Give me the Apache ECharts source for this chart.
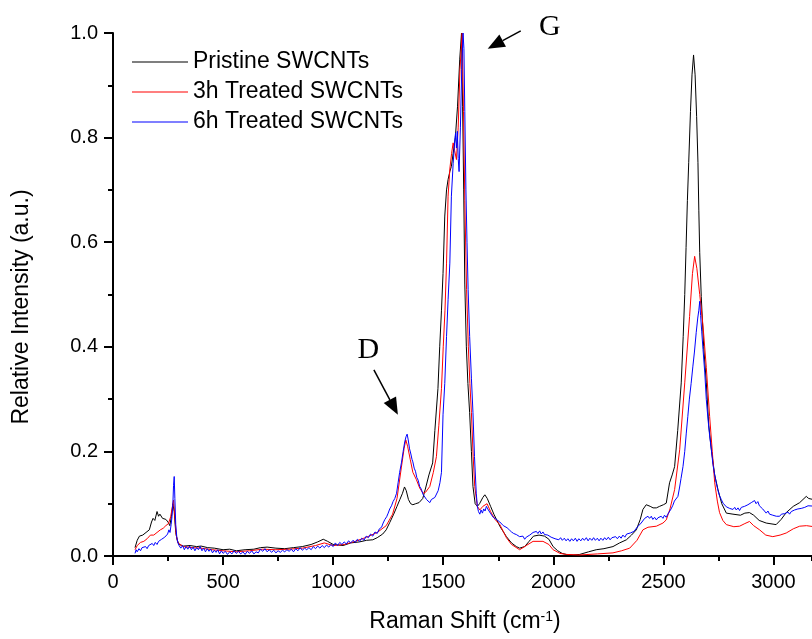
<!DOCTYPE html>
<html>
<head>
<meta charset="utf-8">
<script src="https://cdn.jsdelivr.net/npm/echarts@6/dist/echarts.min.js"></script>
<style>
  html, body { margin: 0; padding: 0; background: #fff; }
  #chart { width: 812px; height: 639px; }
</style>
</head>
<body>
<div id="chart"></div>
<script>
// Raman spectra, [shift (cm-1), relative intensity]
var pristine = [
  [100,0.016],[110,0.03],[120,0.038],[135,0.04],[150,0.045],[165,0.05],[175,0.065],[182,0.072],[190,0.068],[200,0.085],
  [207,0.076],[213,0.08],[218,0.083],[225,0.072],[233,0.075],[240,0.07],[250,0.065],[258,0.058],[265,0.075],[272,0.1],
  [278,0.085],[285,0.045],[292,0.03],[300,0.022],[320,0.019],[350,0.02],[380,0.018],[400,0.019],[430,0.016],[460,0.015],
  [500,0.012],[530,0.013],[560,0.01],[600,0.012],[640,0.013],[670,0.016],[700,0.017],[740,0.015],[780,0.014],[820,0.016],
  [860,0.018],[900,0.022],[930,0.027],[955,0.032],[975,0.028],[1000,0.022],[1045,0.02],[1080,0.025],[1120,0.027],[1152,0.03],
  [1180,0.031],[1200,0.035],[1225,0.042],[1241,0.05],[1257,0.064],[1275,0.08],[1290,0.095],[1303,0.108],[1315,0.12],[1324,0.132],
  [1332,0.125],[1342,0.108],[1352,0.1],[1362,0.098],[1375,0.1],[1390,0.102],[1407,0.11],[1420,0.13],[1435,0.155],[1452,0.178],
  [1462,0.24],[1476,0.32],[1484,0.4],[1492,0.47],[1499,0.54],[1507,0.65],[1515,0.7],[1522,0.72],[1530,0.735],[1537,0.745],
  [1545,0.77],[1555,0.8],[1565,0.86],[1575,0.95],[1583,1.0],[1588,0.86],[1593,0.7],[1598,0.52],[1605,0.4],[1612,0.33],
  [1620,0.274],[1628,0.2],[1635,0.133],[1645,0.1],[1655,0.095],[1665,0.1],[1680,0.112],[1689,0.117],[1700,0.11],[1715,0.095],
  [1730,0.08],[1757,0.057],[1787,0.037],[1810,0.025],[1832,0.018],[1847,0.015],[1870,0.018],[1890,0.028],[1910,0.038],[1935,0.04],
  [1960,0.038],[1980,0.032],[1999,0.018],[2020,0.01],[2040,0.005],[2059,0.003],[2090,0.002],[2120,0.003],[2160,0.008],[2195,0.012],
  [2230,0.014],[2271,0.018],[2301,0.025],[2332,0.031],[2355,0.04],[2377,0.05],[2395,0.07],[2407,0.089],[2422,0.098],[2440,0.095],
  [2453,0.092],[2468,0.092],[2483,0.095],[2500,0.098],[2513,0.101],[2528,0.14],[2540,0.155],[2551,0.171],[2565,0.24],[2581,0.331],
  [2590,0.42],[2597,0.5],[2603,0.59],[2609,0.68],[2615,0.752],[2623,0.85],[2630,0.92],[2637,0.958],[2644,0.92],[2651,0.84],
  [2657,0.752],[2661,0.66],[2665,0.58],[2672,0.496],[2683,0.4],[2695,0.331],[2706,0.25],[2718,0.203],[2733,0.155],[2748,0.127],
  [2765,0.1],[2786,0.082],[2816,0.08],[2850,0.078],[2870,0.082],[2891,0.083],[2910,0.078],[2935,0.068],[2967,0.063],[3012,0.06],
  [3035,0.07],[3058,0.083],[3090,0.095],[3119,0.102],[3149,0.114],[3160,0.11],[3200,0.106]
];

var treated3h = [
  [100,0.012],[110,0.02],[125,0.026],[140,0.028],[155,0.033],[170,0.04],[185,0.04],[200,0.045],[215,0.05],[228,0.053],
  [240,0.058],[252,0.062],[262,0.075],[270,0.095],[275,0.107],[280,0.08],[287,0.04],[295,0.025],[320,0.018],[360,0.016],
  [400,0.015],[450,0.012],[500,0.01],[560,0.008],[620,0.01],[680,0.013],[740,0.012],[800,0.013],[860,0.015],[920,0.02],
  [960,0.025],[1000,0.02],[1050,0.022],[1100,0.028],[1152,0.036],[1200,0.045],[1241,0.058],[1270,0.08],[1290,0.11],[1310,0.17],
  [1322,0.205],[1330,0.222],[1338,0.21],[1350,0.185],[1362,0.16],[1378,0.146],[1393,0.13],[1408,0.12],[1420,0.122],[1439,0.133],
  [1455,0.16],[1469,0.19],[1480,0.25],[1492,0.32],[1500,0.4],[1508,0.47],[1515,0.56],[1522,0.688],[1530,0.74],[1538,0.77],
  [1545,0.79],[1552,0.775],[1560,0.758],[1568,0.82],[1576,0.93],[1586,1.0],[1592,0.85],[1598,0.68],[1606,0.51],[1614,0.4],
  [1621,0.33],[1628,0.274],[1636,0.19],[1643,0.133],[1655,0.095],[1666,0.088],[1680,0.095],[1699,0.1],[1715,0.085],[1735,0.07],
  [1757,0.06],[1787,0.035],[1810,0.022],[1847,0.012],[1877,0.02],[1908,0.028],[1953,0.028],[1980,0.022],[1999,0.012],[2030,0.005],
  [2059,0.003],[2120,0.002],[2200,0.004],[2271,0.006],[2310,0.01],[2347,0.015],[2380,0.03],[2407,0.05],[2430,0.055],[2468,0.057],
  [2498,0.063],[2513,0.069],[2530,0.09],[2551,0.127],[2574,0.203],[2597,0.331],[2619,0.458],[2632,0.54],[2642,0.573],[2652,0.55],
  [2665,0.5],[2680,0.44],[2695,0.36],[2710,0.267],[2722,0.2],[2733,0.14],[2745,0.105],[2755,0.083],[2770,0.068],[2786,0.06],
  [2820,0.056],[2846,0.057],[2870,0.062],[2891,0.066],[2910,0.058],[2937,0.05],[2965,0.04],[2997,0.037],[3030,0.04],[3058,0.044],
  [3090,0.052],[3119,0.057],[3150,0.058],[3200,0.055]
];

var treated6h = [
  [100,0.005],[105,0.012],[110,0.008],[118,0.014],[125,0.01],[132,0.016],[140,0.013],[148,0.018],[155,0.014],[162,0.02],
  [170,0.017],[178,0.024],[185,0.02],[192,0.026],[200,0.022],[207,0.028],[214,0.025],[221,0.032],[228,0.029],[235,0.036],
  [242,0.033],[248,0.042],[254,0.05],[259,0.045],[264,0.06],[268,0.075],[272,0.1],[275,0.135],[278,0.152],[281,0.11],
  [285,0.06],[290,0.035],[295,0.025],[300,0.02],[308,0.015],[316,0.02],[324,0.012],[332,0.018],[340,0.013],[348,0.019],
  [356,0.012],[364,0.017],[372,0.01],[380,0.016],[388,0.012],[396,0.018],[404,0.01],[412,0.015],[420,0.008],[428,0.014],
  [436,0.009],[444,0.013],[452,0.006],[460,0.011],[468,0.007],[476,0.012],[484,0.004],[492,0.01],[500,0.005],[510,0.009],
  [520,0.003],[530,0.008],[540,0.004],[550,0.01],[560,0.005],[570,0.009],[580,0.004],[590,0.008],[600,0.003],[610,0.009],
  [620,0.005],[630,0.01],[640,0.004],[650,0.008],[660,0.006],[670,0.013],[680,0.009],[690,0.014],[700,0.008],[710,0.012],
  [720,0.007],[730,0.011],[740,0.006],[750,0.01],[760,0.007],[770,0.011],[780,0.008],[790,0.012],[800,0.009],[810,0.013],
  [820,0.008],[830,0.014],[840,0.01],[850,0.016],[860,0.011],[870,0.015],[880,0.012],[890,0.016],[900,0.012],[910,0.018],
  [920,0.014],[930,0.019],[940,0.015],[950,0.02],[960,0.016],[970,0.021],[980,0.017],[990,0.022],[1000,0.018],[1010,0.025],
  [1020,0.02],[1030,0.026],[1040,0.022],[1050,0.027],[1060,0.023],[1070,0.029],[1080,0.025],[1090,0.03],[1100,0.026],[1110,0.032],
  [1120,0.028],[1130,0.034],[1140,0.03],[1150,0.038],[1160,0.035],[1170,0.042],[1180,0.038],[1190,0.046],[1200,0.043],[1210,0.052],
  [1220,0.055],[1227,0.063],[1235,0.07],[1243,0.075],[1250,0.082],[1257,0.09],[1265,0.096],[1272,0.104],[1280,0.11],[1288,0.12],
  [1295,0.14],[1302,0.16],[1310,0.178],[1318,0.2],[1325,0.218],[1331,0.228],[1336,0.233],[1341,0.222],[1347,0.205],[1353,0.195],
  [1358,0.185],[1362,0.18],[1368,0.168],[1374,0.162],[1380,0.15],[1386,0.145],[1393,0.133],[1400,0.128],[1408,0.118],[1416,0.115],
  [1424,0.108],[1432,0.11],[1439,0.102],[1446,0.108],[1454,0.105],[1462,0.112],[1469,0.115],[1477,0.125],[1485,0.14],[1492,0.16],
  [1499,0.27],[1507,0.33],[1515,0.42],[1522,0.49],[1530,0.56],[1537,0.688],[1545,0.75],[1552,0.793],[1556,0.809],[1560,0.78],
  [1564,0.812],[1568,0.76],[1572,0.735],[1578,0.82],[1584,0.93],[1590,1.0],[1594,0.97],[1598,0.85],[1603,0.7],[1608,0.6],
  [1613,0.51],[1620,0.42],[1628,0.34],[1635,0.274],[1642,0.19],[1650,0.12],[1655,0.095],[1660,0.085],[1666,0.08],[1672,0.088],
  [1678,0.082],[1684,0.09],[1690,0.086],[1696,0.095],[1702,0.09],[1708,0.088],[1714,0.082],[1720,0.08],[1727,0.074],[1734,0.077],
  [1741,0.07],[1748,0.072],[1757,0.065],[1765,0.062],[1773,0.058],[1781,0.06],[1790,0.054],[1800,0.05],[1810,0.046],[1820,0.043],
  [1832,0.041],[1840,0.038],[1847,0.037],[1855,0.034],[1862,0.038],[1870,0.032],[1877,0.036],[1885,0.034],[1893,0.04],[1900,0.038],
  [1908,0.045],[1915,0.042],[1923,0.047],[1930,0.043],[1938,0.048],[1945,0.042],[1953,0.046],[1960,0.041],[1968,0.044],[1975,0.04],
  [1983,0.042],[1990,0.036],[1999,0.038],[2008,0.033],[2016,0.036],[2025,0.031],[2033,0.035],[2041,0.03],[2050,0.034],[2058,0.029],
  [2066,0.033],[2075,0.028],[2083,0.033],[2091,0.029],[2100,0.034],[2108,0.028],[2116,0.033],[2125,0.029],[2133,0.034],[2141,0.03],
  [2150,0.035],[2158,0.029],[2166,0.034],[2175,0.03],[2183,0.035],[2191,0.03],[2200,0.034],[2208,0.029],[2216,0.034],[2225,0.03],
  [2233,0.035],[2241,0.031],[2250,0.036],[2258,0.031],[2266,0.035],[2275,0.032],[2283,0.037],[2291,0.033],[2300,0.038],[2308,0.034],
  [2316,0.04],[2325,0.036],[2333,0.042],[2341,0.039],[2350,0.044],[2358,0.041],[2366,0.047],[2375,0.05],[2383,0.056],[2391,0.058],
  [2399,0.063],[2407,0.066],[2415,0.072],[2422,0.07],[2430,0.076],[2437,0.072],[2445,0.076],[2452,0.07],[2460,0.074],[2468,0.069],
  [2475,0.073],[2483,0.07],[2490,0.076],[2498,0.072],[2505,0.078],[2513,0.074],[2520,0.08],[2528,0.082],[2535,0.09],[2543,0.097],
  [2550,0.105],[2558,0.108],[2566,0.114],[2573,0.13],[2580,0.148],[2589,0.171],[2597,0.2],[2604,0.235],[2611,0.267],[2618,0.3],
  [2626,0.33],[2634,0.363],[2641,0.39],[2649,0.427],[2656,0.455],[2661,0.47],[2665,0.487],[2669,0.46],[2674,0.43],[2680,0.395],
  [2688,0.35],[2695,0.299],[2703,0.26],[2710,0.23],[2718,0.203],[2725,0.175],[2733,0.155],[2740,0.14],[2748,0.125],[2755,0.115],
  [2763,0.108],[2771,0.101],[2778,0.098],[2786,0.094],[2794,0.097],[2801,0.091],[2809,0.094],[2816,0.089],[2824,0.093],[2831,0.088],
  [2839,0.092],[2846,0.087],[2854,0.093],[2861,0.09],[2869,0.095],[2876,0.092],[2884,0.098],[2891,0.096],[2899,0.102],[2906,0.099],
  [2914,0.106],[2921,0.1],[2929,0.104],[2936,0.096],[2944,0.098],[2951,0.09],[2959,0.088],[2967,0.082],[2975,0.086],[2982,0.08],
  [2990,0.083],[2997,0.078],[3005,0.081],[3013,0.076],[3020,0.079],[3028,0.076],[3036,0.08],[3043,0.077],[3051,0.081],[3058,0.079],
  [3066,0.084],[3073,0.08],[3081,0.085],[3088,0.083],[3096,0.088],[3103,0.085],[3111,0.09],[3119,0.087],[3126,0.091],[3134,0.088],
  [3142,0.093],[3149,0.092],[3157,0.096],[3165,0.093],[3200,0.095]
];

var seriesNames = ['Pristine SWCNTs', '3h Treated SWCNTs', '6h Treated SWCNTs'];
var seriesColors = ['#000000', '#ff0000', '#0000ff'];

// x ticks (the axis is cut at the right edge of the figure)
var xMajorTicks = [0, 500, 1000, 1500, 2000, 2500, 3000];
var xMax = 3175;

// peak annotations: label position, arrow start, arrow tip (data coords)
var peakNotes = [
  { text: 'G', label: [1984, 1.012], from: [1852, 1.004], to: [1702, 0.970] },
  { text: 'D', label: [1160, 0.394], from: [1185, 0.356], to: [1294, 0.270] }
];

var font = 'Liberation Sans, Arial, sans-serif';

var option = {
  backgroundColor: '#ffffff',
  animation: false,
  grid: { left: 113, top: 33, right: 0, bottom: 83, containLabel: false },
  legend: {
    orient: 'vertical',
    left: 127,
    top: 45,
    icon: 'rect',
    itemWidth: 56,
    itemHeight: 1,
    itemGap: 6,
    textStyle: { fontFamily: font, fontSize: 23, color: '#000', lineHeight: 24 },
    data: seriesNames
  },
  xAxis: [{
    // minor ticks every 250 (drawn first, under the major ones)
    type: 'value',
    position: 'bottom',
    min: 0,
    max: xMax,
    interval: 250,
    axisLine: { show: false },
    axisTick: { show: true, length: 5, lineStyle: { color: '#000', width: 2 } },
    axisLabel: { show: false },
    splitLine: { show: false }
  }, {
    type: 'value',
    position: 'bottom',
    min: 0,
    max: xMax,
    axisLine: { lineStyle: { color: '#000', width: 2 } },
    axisTick: { length: 9, customValues: xMajorTicks, lineStyle: { color: '#000', width: 2 } },
    axisLabel: {
      fontFamily: font, fontSize: 20, color: '#000', margin: 16,
      customValues: xMajorTicks,
      formatter: function (v) { return String(v); }
    },
    splitLine: { show: false }
  }],
  yAxis: {
    type: 'value',
    min: 0,
    max: 1,
    interval: 0.2,
    axisLine: { show: true, lineStyle: { color: '#000', width: 2 } },
    axisTick: { show: true, length: 9, lineStyle: { color: '#000', width: 2 } },
    minorTick: { show: true, splitNumber: 2, length: 5, lineStyle: { color: '#000', width: 2 } },
    axisLabel: {
      fontFamily: font, fontSize: 20, color: '#000', margin: 15,
      formatter: function (v) { return v.toFixed(1); }
    },
    splitLine: { show: false }
  },
  series: [pristine, treated3h, treated6h].map(function (d, i) {
    return {
      name: seriesNames[i],
      type: 'line',
      xAxisIndex: 1,
      data: d,
      symbol: 'none',
      showSymbol: false,
      sampling: null,
      color: seriesColors[i],
      lineStyle: { width: 1, color: seriesColors[i] }
    };
  })
};

var myChart = echarts.init(document.getElementById('chart'), null, { renderer: 'canvas' });
myChart.setOption(option);

// annotations and axis titles
function toPx(p) { return myChart.convertToPixel({ xAxisIndex: 1, yAxisIndex: 0 }, p); }

var graphics = [];
peakNotes.forEach(function (n) {
  var lp = toPx(n.label), a = toPx(n.from), b = toPx(n.to);
  var dx = b[0] - a[0], dy = b[1] - a[1], len = Math.sqrt(dx * dx + dy * dy);
  var ux = dx / len, uy = dy / len, head = 17, half = 7;
  var bx = b[0] - ux * head, by = b[1] - uy * head;
  graphics.push({
    type: 'text', x: lp[0], y: lp[1],
    style: { text: n.text, font: '30px "Liberation Serif", "Times New Roman", serif', fill: '#000', align: 'center', verticalAlign: 'middle' }
  });
  graphics.push({
    type: 'line', shape: { x1: a[0], y1: a[1], x2: bx, y2: by },
    style: { stroke: '#000', lineWidth: 1.5 }
  });
  graphics.push({
    type: 'polygon',
    shape: { points: [[b[0], b[1]], [bx - uy * half, by + ux * half], [bx + uy * half, by - ux * half]] },
    style: { fill: '#000' }
  });
});

graphics.push({
  type: 'text', x: 465, y: 622,
  style: {
    text: 'Raman Shift (cm{sup|-1})',
    fontFamily: font, fontSize: 23, fill: '#000', align: 'center', verticalAlign: 'middle',
    rich: { sup: { fontFamily: font, fontSize: 14, verticalAlign: 'top', fill: '#000' } }
  }
});
graphics.push({
  type: 'text', x: 22, y: 307, rotation: Math.PI / 2,
  style: {
    text: 'Relative Intensity (a.u.)',
    fontFamily: font, fontSize: 23, fill: '#000', align: 'center', verticalAlign: 'middle'
  }
});

myChart.setOption({ graphic: graphics });
</script>
</body>
</html>
